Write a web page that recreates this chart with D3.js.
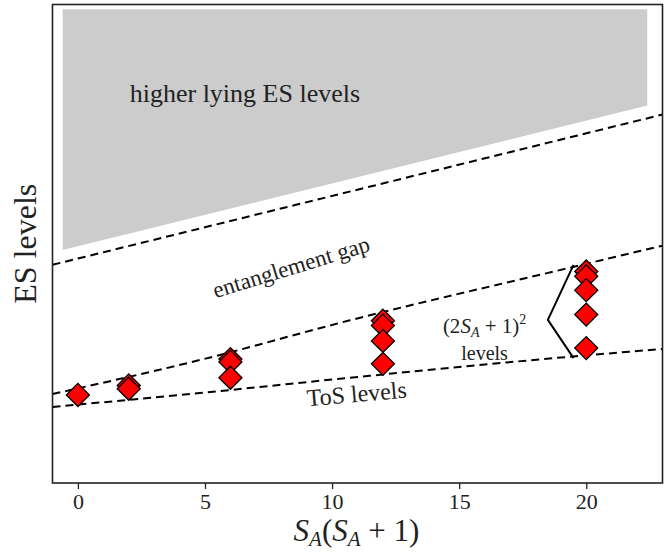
<!DOCTYPE html>
<html>
<head>
<meta charset="utf-8">
<script src="https://cdn.jsdelivr.net/npm/d3@7"></script>
<style>
  body { margin: 0; background: #fff; }
  svg text { font-family: "Liberation Serif", "DejaVu Serif", serif; fill: #222; }
</style>
</head>
<body>
<div id="chart"></div>
<script>
// x positions of the S_A sectors and the ES levels in each (arbitrary y units)
const sectorX = [0, 2, 6, 12, 20];
const sectorLevels = [
  [1.84],
  [2.04, 1.97],
  [2.59, 2.53, 2.20],
  [3.39, 3.29, 2.97, 2.49],
  [4.42, 4.32, 4.03, 3.52, 2.82]
];
const xTicks = [0, 5, 10, 15, 20];

// dashed guide lines
const gapX = [-1, 23];
const gapY = [4.56, 7.70];
const towerTopX = [-1, 4.8, 10.7, 19.6, 23];
const towerTopY = [1.86, 2.57, 3.40, 4.53, 4.96];
const tosX = [-1, 4.8, 10.7, 20.25, 23];
const tosY = [1.59, 1.88, 2.20, 2.68, 2.80];

// shaded region of higher lying levels
const shadeX = [-0.6, 22.4];
const shadeBottom = [4.87, 7.89];
const shadeTop = 9.90;

// bracket around the tower at S_A(S_A+1)=20
const bracketX = [19.5, 18.49, 19.5];
const bracketY = [4.56, 3.41, 2.61];

const width = 671, height = 552;
const mLeft = 52.5, mRight = 662.5, mTop = 4.5, mBottom = 483;
const serif = '"Liberation Serif", "DejaVu Serif", serif';

const svg = d3.select("#chart").append("svg")
  .attr("width", width)
  .attr("height", height)
  .attr("font-family", serif);

const x = d3.scaleLinear().domain([-1, 23]).range([mLeft, mRight]);
const y = d3.scaleLinear().domain([0, 10]).range([mBottom, mTop]);

// shaded area
svg.append("path")
  .attr("fill", "#cccccc")
  .attr("d", d3.line()([
    [x(shadeX[0]), y(shadeTop)],
    [x(shadeX[1]), y(shadeTop)],
    [x(shadeX[1]), y(shadeBottom[1])],
    [x(shadeX[0]), y(shadeBottom[0])]
  ]) + "Z");

const line = d3.line().x(d => x(d[0])).y(d => y(d[1])).curve(d3.curveMonotoneX);

const guides = [
  d3.zip(gapX, gapY),
  d3.zip(towerTopX, towerTopY),
  d3.zip(tosX, tosY)
];
svg.append("g")
  .selectAll("path")
  .data(guides)
  .join("path")
  .attr("d", line)
  .attr("fill", "none")
  .attr("stroke", "#000")
  .attr("stroke-width", 2)
  .attr("stroke-dasharray", "8,5");

// bracket
svg.append("path")
  .attr("d", d3.line().x(d => x(d[0])).y(d => y(d[1]))(d3.zip(bracketX, bracketY)))
  .attr("fill", "none")
  .attr("stroke", "#000")
  .attr("stroke-width", 2);

// diamonds
const points = sectorX.flatMap((sx, i) => sectorLevels[i].map(v => [sx, v]));
const diamond = d3.symbol(d3.symbolSquare, 265);
svg.append("g")
  .selectAll("path")
  .data(points)
  .join("path")
  .attr("d", diamond)
  .attr("transform", d => `translate(${x(d[0])},${y(d[1])}) rotate(45)`)
  .attr("fill", "#ff0000")
  .attr("stroke", "#000")
  .attr("stroke-width", 1.3);

// frame
svg.append("rect")
  .attr("x", mLeft).attr("y", mTop)
  .attr("width", mRight - mLeft).attr("height", mBottom - mTop)
  .attr("fill", "none")
  .attr("stroke", "#222")
  .attr("stroke-width", 1.6);

// x axis
const xAxis = svg.append("g")
  .attr("transform", `translate(0,${mBottom})`)
  .call(d3.axisBottom(x).tickValues(xTicks).tickSize(6).tickPadding(4).tickFormat(d3.format("d")));
xAxis.attr("font-family", serif).attr("font-size", 22);
xAxis.select(".domain").remove();
xAxis.selectAll(".tick line").attr("stroke", "#222").attr("stroke-width", 1.3);
xAxis.selectAll(".tick text").attr("fill", "#222");

// axis labels
const xl = svg.append("text")
  .attr("x", (mLeft + mRight) / 2 - 1)
  .attr("y", 541)
  .attr("text-anchor", "middle")
  .attr("font-size", 31);
xl.append("tspan").attr("font-style", "italic").text("S");
xl.append("tspan").attr("font-style", "italic").attr("font-size", 21).attr("dy", 5).text("A");
xl.append("tspan").attr("dy", -5).text("(");
xl.append("tspan").attr("font-style", "italic").text("S");
xl.append("tspan").attr("font-style", "italic").attr("font-size", 21).attr("dy", 5).text("A");
xl.append("tspan").attr("dy", -5).text(" + 1)");

svg.append("text")
  .attr("transform", `translate(36,${(mTop + mBottom) / 2}) rotate(-90)`)
  .attr("text-anchor", "middle")
  .attr("font-size", 32)
  .text("ES levels");

// annotations
svg.append("text")
  .attr("x", x(6.57)).attr("y", y(8.16) + 9)
  .attr("text-anchor", "middle")
  .attr("font-size", 26)
  .text("higher lying ES levels");

svg.append("text")
  .attr("transform", `translate(${x(8.4)},${y(4.5)}) rotate(-17)`)
  .attr("text-anchor", "middle")
  .attr("dy", 7)
  .attr("font-size", 23)
  .text("entanglement gap");

svg.append("text")
  .attr("transform", `translate(${x(10.97)},${y(1.84)}) rotate(-5)`)
  .attr("text-anchor", "middle")
  .attr("dy", 7)
  .attr("font-size", 24)
  .text("ToS levels");

const deg = svg.append("text")
  .attr("x", x(16.0)).attr("y", y(3.25) + 6)
  .attr("text-anchor", "middle")
  .attr("font-size", 21);
deg.append("tspan").text("(2");
deg.append("tspan").attr("font-style", "italic").text("S");
deg.append("tspan").attr("font-style", "italic").attr("font-size", 14).attr("dy", 4).text("A");
deg.append("tspan").attr("dy", -4).text(" + 1)");
deg.append("tspan").attr("font-size", 14).attr("dy", -9).text("2");

svg.append("text")
  .attr("x", x(16.0)).attr("y", y(2.70) + 6)
  .attr("text-anchor", "middle")
  .attr("font-size", 20)
  .text("levels");
</script>
</body>
</html>
